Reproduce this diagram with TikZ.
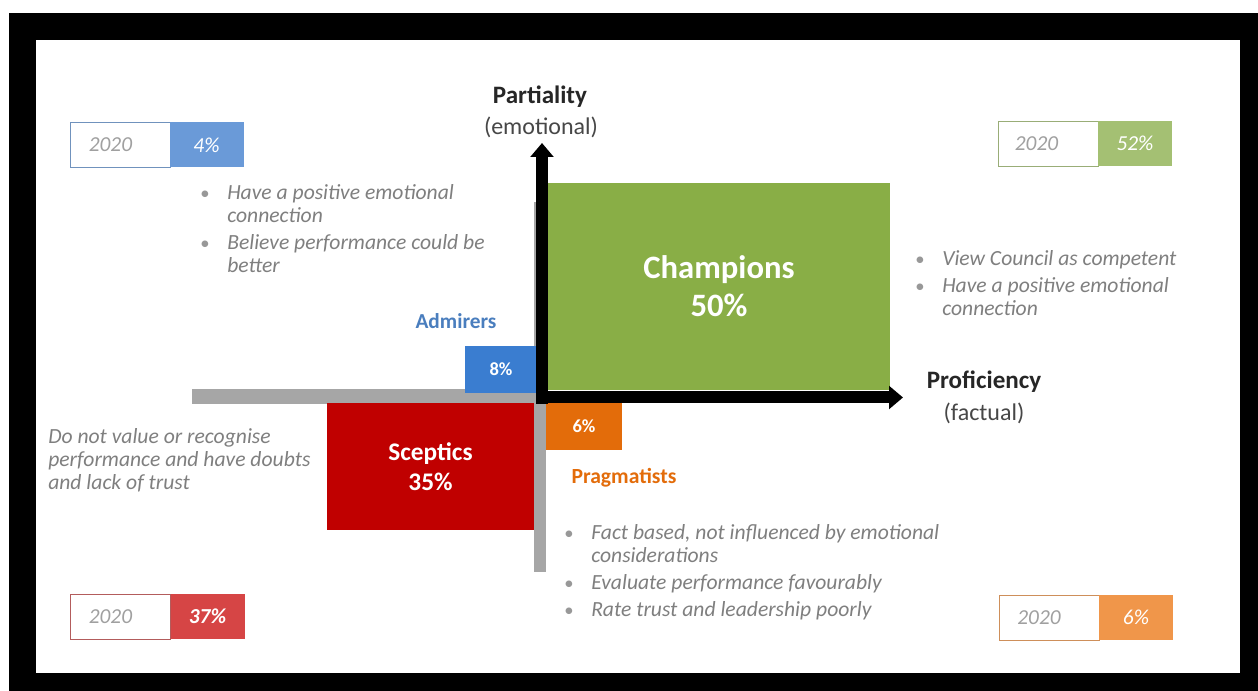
\documentclass[tikz,border=0pt]{standalone}
\usepackage{fontspec}
\setmainfont{Carlito}
\usetikzlibrary{arrows.meta}
\definecolor{champ}{RGB}{137,174,70}
\definecolor{champlt}{RGB}{164,192,115}
\definecolor{admblue}{RGB}{58,125,208}
\definecolor{admlt}{RGB}{106,154,216}
\definecolor{admtext}{RGB}{74,126,190}
\definecolor{scepred}{RGB}{192,0,0}
\definecolor{sceplt}{RGB}{214,69,69}
\definecolor{pragor}{RGB}{227,108,10}
\definecolor{praglt}{RGB}{240,150,74}
\definecolor{bargray}{RGB}{166,166,166}
\definecolor{txtgray}{RGB}{127,127,127}
\definecolor{yeargray}{RGB}{160,160,160}
\definecolor{axtext}{RGB}{38,38,38}
\begin{document}
\begin{tikzpicture}[x=0.75pt,y=-0.75pt,
  box/.style 2 args={inner sep=0pt, minimum width=#1*0.75pt, minimum height=#2*0.75pt},
  axis/.style={line width=9pt, -{Triangle[width=17pt,length=10.5pt]}},
  body/.style={anchor=base west, inner sep=0pt, text=txtgray, font=\fontsize{16.2}{19}\selectfont\itshape},
  bul/.style={anchor=base, inner sep=0pt, text=txtgray!80, font=\fontsize{14}{17}\selectfont},
  yearbox/.style={box={100}{45}, draw=#1, line width=0.6pt, fill=white},
  yeartxt/.style={anchor=west, inner sep=0pt, text=yeargray, font=\fontsize{16}{19}\selectfont\itshape},
  pctbox/.style={box={74}{45}, fill=#1, text=white, font=\fontsize{16}{19}\selectfont\itshape},
  axlabel/.style={inner sep=0pt, text=axtext, font=\fontsize{18.8}{22}\selectfont\bfseries},
  axsub/.style={inner sep=0pt, text=axtext!85, font=\fontsize{18}{22}\selectfont},
]
\useasboundingbox (0,0) rectangle (1258,691);
\fill[white] (0,0) rectangle (1258,691);
\fill[black] (9,13) rectangle (1258,691);
\fill[white] (36,40) rectangle (1240,673);

% grey bars
\fill[bargray] (192,389) rectangle (537,404);
\fill[bargray] (534,202) rectangle (546,572);

% quadrant boxes
\node[box={342}{207}, fill=champ, text=white, align=center,
  font=\fontsize{24.5}{28.5}\selectfont\bfseries] (champ) at (719,286.5) {Champions\\50\%};
\node[box={72}{47}, fill=admblue, text=white, font=\fontsize{13.9}{16}\selectfont\bfseries] (adm) at (501,369.5) {8\%};
\node[box={76}{47}, fill=pragor, text=white, font=\fontsize{13.9}{16}\selectfont\bfseries] (prag) at (584,426.5) {6\%};
\node[box={207}{127}, fill=scepred, text=white, align=center,
  font=\fontsize{19}{22.5}\selectfont\bfseries] (scep) at (430.5,466.5) {Sceptics\\35\%};

% axes
\coordinate (vbot) at (542,404);
\coordinate (vtop) at (542,143);
\coordinate (hleft) at (536,397.5);
\coordinate (hright) at (903,397.5);
\draw[axis] (vbot) -- (vtop);
\draw[axis] (hleft) -- (hright);

% axis labels
\node[axlabel] (partial) at (540,97) {Partiality};
\node[axsub] (emot) at (541,127) {(emotional)};
\node[axlabel] (profic) at (984,382) {Proficiency};
\node[axsub] (fact) at (984,413) {(factual)};

% quadrant names
\node[inner sep=0pt, text=admtext, font=\fontsize{16}{19}\selectfont\bfseries] (admname) at (456,321) {Admirers};
\node[inner sep=0pt, text=pragor, font=\fontsize{16.2}{19}\selectfont\bfseries] (pragname) at (624,478) {Pragmatists};

% 2020 boxes
\node[yearbox=admlt!70!gray] (y1) at (120,144.5) {};
\node[yeartxt] (y1t) at ([xshift=19*0.75pt]y1.west) {2020};
\node[pctbox=admlt] (p1) at (206.5,145) {4\%};

\node[yearbox=champlt!70!gray] (y2) at (1048,143.5) {};
\node[yeartxt] (y2t) at ([xshift=17*0.75pt]y2.west) {2020};
\node[pctbox=champlt] (p2) at (1135,143.5) {52\%};

\node[yearbox=sceplt!60!gray] (y3) at (120,616.5) {};
\node[yeartxt] (y3t) at ([xshift=19*0.75pt]y3.west) {2020};
\node[pctbox=sceplt, font=\fontsize{16}{19}\selectfont\itshape\bfseries] (p3) at (207.5,616.5) {37\%};

\node[yearbox=praglt!70!gray] (y4) at (1049.5,617.5) {};
\node[yeartxt] (y4t) at ([xshift=18*0.75pt]y4.west) {2020};
\node[pctbox=praglt] (p4) at (1136,617.5) {6\%};

% Admirers bullets
\node[bul] (ab1) at (205,200) {\textbullet};
\node[body] (a1) at (227,200) {Have a positive emotional};
\node[body] (a2) at (227,223) {connection};
\node[bul] (ab2) at (205,250) {\textbullet};
\node[body] (a3) at (227,250) {Believe performance could be};
\node[body] (a4) at (227,273) {better};

% Champions bullets
\node[bul] (cb1) at (920,266) {\textbullet};
\node[body] (c1) at (942,266) {View Council as competent};
\node[bul] (cb2) at (920,293) {\textbullet};
\node[body] (c2) at (942,293) {Have a positive emotional};
\node[body] (c3) at (942,316) {connection};

% Sceptics text
\node[body] (s1) at (48,444) {Do not value or recognise};
\node[body] (s2) at (48,467) {performance and have doubts};
\node[body] (s3) at (48,490) {and lack of trust};

% Pragmatists bullets
\node[bul] (pb1) at (569,540) {\textbullet};
\node[body] (g1) at (591,540) {Fact based, not influenced by emotional};
\node[body] (g2) at (591,563) {considerations};
\node[bul] (pb2) at (569,590) {\textbullet};
\node[body] (g3) at (591,590) {Evaluate performance favourably};
\node[bul] (pb3) at (569,617) {\textbullet};
\node[body] (g4) at (591,617) {Rate trust and leadership poorly};
\end{tikzpicture}
\end{document}
